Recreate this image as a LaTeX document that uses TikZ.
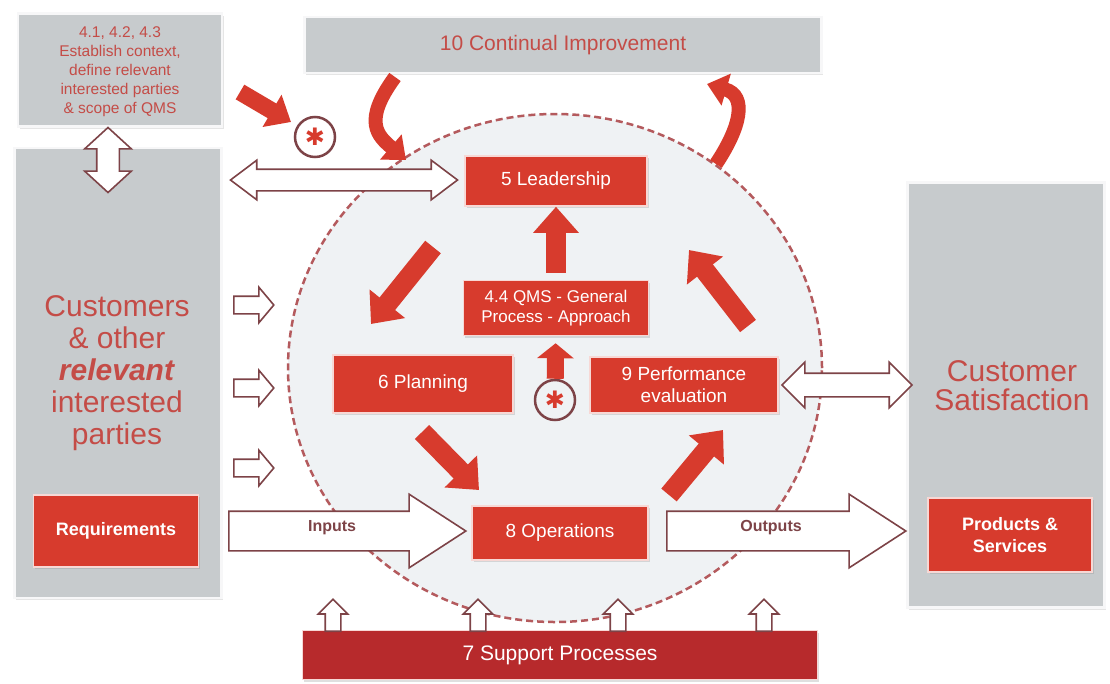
\documentclass[tikz,border=0pt]{standalone}
\usepackage{fontspec}
\setmainfont{Liberation Sans}
\newfontfamily\astfont{DejaVu Sans}
\usetikzlibrary{arrows.meta,shapes.arrows,shadows}
\definecolor{qred}{HTML}{D73B2D}
\definecolor{qdark}{HTML}{B72A2C}
\definecolor{qgray}{HTML}{C7CBCD}
\definecolor{qtext}{HTML}{C44C47}
\definecolor{qline}{HTML}{7D4347}
\definecolor{qdash}{HTML}{B45A5D}
\definecolor{qfill}{HTML}{EFF2F4}
\newcommand{\fsz}[2]{\fontsize{#1}{#2}\selectfont}
\begin{document}
\begin{tikzpicture}[x=1pt,y=-1pt,
	graybox/.style={fill=qgray, draw=white!85!qgray, line width=2.5pt, drop shadow={opacity=0.2, shadow xshift=1.5pt, shadow yshift=-2pt}},
	redbox/.style={fill=qred, draw=white!80!qred, line width=1.5pt, text=white, align=center, font=\fsz{19}{23}, drop shadow={opacity=0.25, shadow xshift=1.5pt, shadow yshift=-2pt}},
	graytext/.style={text=qtext, align=center},
	hollow/.style={draw=qline, fill=white, line width=1.6pt, text height=0pt, text depth=0pt, minimum width=0pt, inner sep=#1, text=qline, font=\fsz{16}{16}\bfseries},
	redarrow/.style={draw=qred, line width=20pt, -{Triangle[length=26pt,width=44pt]}},
	curvedarrow/.style={draw=qred, line width=14pt, -{Triangle[length=20pt,width=32pt]}},
	astcirc/.style={circle, draw=qline, line width=2.5pt, minimum size=40pt, inner sep=0pt, text=qred, font=\fsz{24}{24}\astfont}
	]
		\fill[white] (0,0) rectangle (1110,683);
		\useasboundingbox (0,0) rectangle (1110,683);
		\draw[qdash, fill=qfill, line width=2.5pt, dash pattern=on 7pt off 4pt] (555,368) ellipse [x radius=267pt, y radius=254pt];

		\node[graybox, minimum width=204pt, minimum height=113pt] at (120,70)(ctx){};
		\node[graytext, font=\fsz{15.5}{19}] at (120,72)(ctxtext){4.1, 4.2, 4.3\\Establish context,\\define relevant\\interested parties\\\& scope of QMS};
		\node[graybox, text=qtext, font=\fsz{21}{24}, minimum width=517pt, minimum height=56pt] at (563,45)(ci){10 Continual Improvement};
		\node[graybox, minimum width=207pt, minimum height=450pt] at (118,373)(cust){};
		\node[graytext, font=\fsz{30}{32}] at (117,373)(custtext){Customers\\\& other\\\textbf{\textit{relevant}}\\interested\\parties};
		\node[graybox, minimum width=197pt, minimum height=425pt] at (1006,395)(sat){};
		\node[graytext, font=\fsz{30}{29}] at (1012,386)(sattext){Customer\\Satisfaction};

		\node[redbox, minimum width=165pt, minimum height=72pt, font=\fsz{18}{22}\bfseries] at (116,531)(req){Requirements};
		\node[redbox, minimum width=164pt, minimum height=74pt, font=\fsz{18}{22}\bfseries] at (1010,535)(prod){Products \&\\Services};
		\node[redbox, minimum width=182pt, minimum height=50pt] at (556,181)(lead){5 Leadership};
		\node[redbox, minimum width=185pt, minimum height=55pt, font=\fsz{17}{20}] at (556,308)(qms){4.4 QMS - General\\Process - Approach};
		\node[redbox, minimum width=180pt, minimum height=58pt] at (423,384)(plan){6 Planning};
		\node[redbox, minimum width=188pt, minimum height=56pt, font=\fsz{19}{22}] at (684,385)(perf){9 Performance\\evaluation};
		\node[redbox, minimum width=176pt, minimum height=54pt] at (560,533)(ops){8 Operations};
		\node[redbox, fill=qdark, minimum width=515pt, minimum height=49pt, font=\fsz{21}{24}] at (560,655)(sup){7 Support Processes};

		\node[astcirc] at (315,137)(ast1){✱};
		\node[astcirc] at (555,400)(ast2){✱};

		\coordinate (t1) at (240,92);
		\coordinate (t2) at (291,122);
		\coordinate (l1) at (433,247);
		\coordinate (l2) at (371,324);
		\coordinate (p1) at (748,326);
		\coordinate (p2) at (689,250);
		\coordinate (o1) at (422,432);
		\coordinate (o2) at (479,490);
		\coordinate (o3) at (669,495);
		\coordinate (o4) at (723,430);
		\coordinate (c1) at (395,77);
		\coordinate (c2) at (406,160);
		\coordinate (c3) at (716,164);
		\coordinate (c4) at (707,84);
		\draw[redarrow, line width=17pt, -{Triangle[length=22pt,width=36pt]}] (t1) -- (t2);
		\draw[redarrow, shorten <=7pt] (qms) -- (lead);
		\draw[redarrow, line width=17pt, -{Triangle[length=15pt,width=36pt]}, shorten >=7pt] (ast2) -- (qms);
		\draw[redarrow] (l1) -- (l2);
		\draw[redarrow] (p1) -- (p2);
		\draw[redarrow] (o1) -- (o2);
		\draw[redarrow] (o3) -- (o4);
		\draw[curvedarrow] (c1) .. controls (362,122) and (378,136) .. (c2);
		\draw[curvedarrow] (c3) .. controls (740,128) and (748,96) .. (c4);

		\node[hollow=10.5pt, double arrow, shape border rotate=90, minimum height=65pt, double arrow head extend=12pt, double arrow tip angle=95] at (108,160)(ud){};
		\node[hollow=10pt, double arrow, minimum height=227pt, double arrow head extend=9pt, double arrow tip angle=74] at (344,180)(lr){};
		\node[hollow=11pt, double arrow, minimum height=130pt, double arrow head extend=11pt, double arrow tip angle=90] at (847,385)(ps){};
		\foreach \y/\n in {305/r1, 388/r2, 468/r3}
			\node[hollow=8pt, single arrow, minimum height=40pt, single arrow head extend=9pt, single arrow tip angle=100, anchor=tail] at (233,\y)(\n){};
		\node[hollow=19pt, single arrow, minimum height=237pt, single arrow head extend=17pt, single arrow tip angle=66, anchor=tail] at (228,531)(inp){Inputs};
		\node[hollow=19pt, single arrow, minimum height=239pt, single arrow head extend=17pt, single arrow tip angle=66, anchor=tail] at (666,531)(outp){Outputs};
		\foreach \x/\n in {333/u1, 478/u2, 618/u3, 764/u4}
			\node[hollow=7pt, single arrow, shape border rotate=90, minimum height=32pt, single arrow head extend=7pt, single arrow tip angle=90, anchor=tail] at (\x,632)(\n){};
	\end{tikzpicture}
\end{document}
